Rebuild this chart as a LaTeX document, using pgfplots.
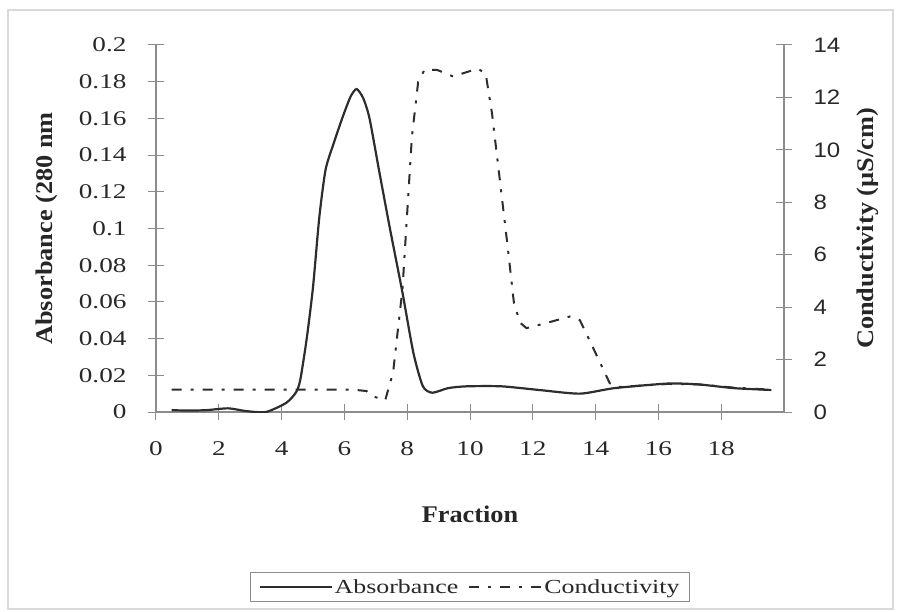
\documentclass[border=0pt]{standalone}
\usepackage{pgfplots}
\pgfplotsset{compat=1.18}
\usepackage{fontspec}
\setmainfont{Liberation Serif}
\newfontfamily\tickfont{Liberation Serif}[FakeStretch=1.3]
\newfontfamily\labfont{Liberation Serif}[FakeStretch=1.1]
\newfontfamily\rsans{Liberation Sans}[FakeStretch=1.15]
\definecolor{axgray}{RGB}{140,140,140}
\definecolor{curve}{RGB}{45,45,45}
\definecolor{txt}{RGB}{40,40,40}

\pgfplotsset{
  common/.style={
    scale only axis, width=628bp, height=367bp,
    xmin=0, xmax=20,
    axis line style={axgray, line width=1.2bp, -},
    tick style={axgray, line width=1bp},
    major tick length=16bp, tick align=center,
    /pgf/number format/assume math mode=true,
    label style={font=\labfont\bfseries\fontsize{24}{28}\selectfont, text=black!85},
  },
}

\begin{document}
\begin{tikzpicture}
\path (-156bp,-200bp) rectangle (743bp,412bp);
\draw[gray!30, line width=1.5bp] (-148bp,-197bp) rectangle (737bp,402bp);

\begin{axis}[common,
  ymin=0, ymax=0.2,
  axis x line*=bottom, axis y line*=left,
  xtick={0,2,...,18},
  ytick={0,0.02,0.04,0.06,0.08,0.1,0.12,0.14,0.16,0.18,0.2},
  yticklabels={0,0.02,0.04,0.06,0.08,0.1,0.12,0.14,0.16,0.18,0.2},
  ticklabel style={font=\tickfont\fontsize{21}{24}\selectfont, text=txt},
  xticklabel style={yshift=-18bp},
  yticklabel style={xshift=-18bp},
  xlabel={Fraction},
  ylabel={Absorbance (280 nm},
  xlabel style={at={(axis description cs:0.5,-0.28)}, anchor=center},
  ylabel style={at={(axis description cs:-0.174,0.5)}, anchor=center},
]
\addplot[curve, line width=2.2bp, smooth, tension=0.4] coordinates {
  (0.5,0.001) (1,0.0008) (1.6,0.001) (2.3,0.002) (2.87,0.0005) (3.5,0)
  (4.15,0.005) (4.47,0.011) (4.6,0.018) (4.8,0.04) (5.0,0.068) (5.2,0.106)
  (5.4,0.132) (5.65,0.146) (5.95,0.161) (6.2,0.172) (6.39,0.176) (6.6,0.171)
  (6.8,0.16) (7.1,0.132) (7.45,0.1) (7.85,0.065) (8.2,0.032) (8.5,0.014)
  (8.8,0.0105) (9.3,0.013) (9.9,0.014) (11,0.014) (12.2,0.012) (13.5,0.010)
  (14.6,0.013) (16.3,0.0155) (17.3,0.015) (18.4,0.013) (19.6,0.012)
};
\end{axis}

\begin{axis}[common,
  ymin=0, ymax=14,
  axis x line=none, axis y line*=right,
  ytick={0,2,...,14},
  yticklabel style={font=\rsans\fontsize{21}{24}\selectfont, text=txt, xshift=18bp},
  ylabel={Conductivity (µS/cm)},
  ylabel style={at={(axis description cs:1.134,0.5)}, anchor=center},
  legend style={at={(axis description cs:0.5,-0.477)}, anchor=center,
    draw=axgray, line width=1bp, legend columns=2,
    font=\tickfont\fontsize{20}{23}\selectfont, text=txt,
    inner xsep=8bp, inner ysep=5bp},
  legend image code/.code={\draw[#1] (0bp,0bp) -- (72bp,0bp);},
  /tikz/every even column/.append style={column sep=8bp},
]
\addlegendimage{curve, line width=2.2bp}
\addlegendentry{Absorbance}
\addplot[curve, line width=2bp, dash pattern=on 10bp off 9bp on 3bp off 9bp] coordinates {
  (0.5,0.85) (6.3,0.85) (6.7,0.8) (6.9,0.6) (7.3,0.45) (7.55,1.5)
  (7.85,4.7) (8.15,10.5) (8.35,12.6) (8.55,13.05) (8.95,13.05) (9.46,12.8)
  (10.25,13.1) (10.5,12.9) (10.7,11.4) (10.95,8.85) (11.2,6.3) (11.4,4.15)
  (11.6,3.4) (11.8,3.2) (12.45,3.4) (13.2,3.65) (13.5,3.5) (13.9,2.5)
  (14.45,1.1) (14.7,0.95) (16.3,1.07) (17.3,1.05) (18.4,0.93) (19.6,0.85)
};
\addlegendentry{Conductivity}
\end{axis}
\end{tikzpicture}
\end{document}
